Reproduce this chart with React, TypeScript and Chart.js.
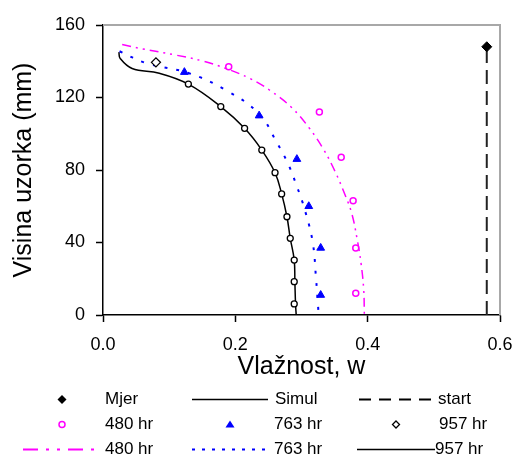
import React, { useEffect, useRef } from "react";
import { Chart, registerables } from "chart.js";

Chart.register(...registerables);

// ---- tick values ----
const xTickValues = [0, 0.2, 0.4, 0.6];
const yTickValues = [0, 40, 80, 120, 160];

// ---- measured / start ----
const mjerX = [0.58];
const mjerY = [148];
const startX = [0.58, 0.58];
const startY = [0, 148];

// ---- measured points ----
const p480X = [0.19, 0.327, 0.36, 0.378, 0.382, 0.382];
const p480Y = [137, 112, 87, 63, 37, 12];

const p763X = [0.123, 0.236, 0.293, 0.311, 0.329, 0.329];
const p763Y = [134, 110, 86, 60, 37, 11];

const p957X = [0.08, 0.129, 0.178, 0.214, 0.24, 0.26, 0.27, 0.278, 0.283, 0.289, 0.289, 0.289];
const p957Y = [139.4, 127.4, 115, 103, 91, 78.5, 66.8, 54.2, 42.3, 30.3, 18.4, 6.1];
const p957Style = ["rectRot", "circle", "circle", "circle", "circle", "circle", "circle", "circle", "circle", "circle", "circle", "circle"];

// ---- simulated curves ----
const s480X = [0.029, 0.06, 0.11, 0.15, 0.186, 0.222, 0.252, 0.285, 0.312, 0.334, 0.351, 0.365, 0.376, 0.384, 0.39, 0.394, 0.395];
const s480Y = [149.3, 146.8, 143.4, 140.2, 136, 130.5, 124, 114.5, 103, 91, 79, 67, 56, 42, 28.5, 14, 0];

const s763X = [0.025, 0.065, 0.13, 0.186, 0.236, 0.262, 0.279, 0.292, 0.305, 0.317, 0.322, 0.325, 0.326];
const s763Y = [145.5, 139, 133.4, 124, 111, 95.6, 84, 72, 58, 40, 20, 5, 0];

const s957X = [0.024, 0.026, 0.044, 0.085, 0.129, 0.178, 0.214, 0.24, 0.26, 0.27, 0.278, 0.283, 0.289, 0.29, 0.291, 0.292];
const s957Y = [145, 141.5, 136, 133.4, 127.4, 115, 103, 91, 78.5, 66.8, 54.2, 42.3, 30.3, 18, 6, 0];

// ---- legend labels ----
const legendRow1 = ["Mjer", "Simul", "start"];
const legendRow2 = ["480 hr", "763 hr", "957 hr"];
const legendRow3 = ["480 hr", "763 hr", "957 hr"];

const MAGENTA = "#ff00ff";
const BLUE = "#0000ff";
const FONT = '"Liberation Sans", Arial, sans-serif';

const zip = (xs: number[], ys: number[]) => xs.map((x, i) => ({ x, y: ys[i] }));

function drawMarker(ctx: CanvasRenderingContext2D, kind: string, x: number, y: number) {
  ctx.save();
  ctx.setLineDash([]);
  if (kind === "mjer") {
    ctx.fillStyle = "#000";
    ctx.beginPath();
    ctx.moveTo(x, y - 4.5);
    ctx.lineTo(x + 4.5, y);
    ctx.lineTo(x, y + 4.5);
    ctx.lineTo(x - 4.5, y);
    ctx.closePath();
    ctx.fill();
  } else if (kind === "circle") {
    ctx.strokeStyle = MAGENTA;
    ctx.lineWidth = 1.5;
    ctx.beginPath();
    ctx.arc(x, y, 3, 0, Math.PI * 2);
    ctx.stroke();
  } else if (kind === "triangle") {
    ctx.fillStyle = BLUE;
    ctx.beginPath();
    ctx.moveTo(x, y - 4);
    ctx.lineTo(x + 4.5, y + 3);
    ctx.lineTo(x - 4.5, y + 3);
    ctx.closePath();
    ctx.fill();
  } else if (kind === "diamond") {
    ctx.strokeStyle = "#000";
    ctx.lineWidth = 1.3;
    ctx.beginPath();
    ctx.moveTo(x, y - 3.5);
    ctx.lineTo(x + 3.5, y);
    ctx.lineTo(x, y + 3.5);
    ctx.lineTo(x - 3.5, y);
    ctx.closePath();
    ctx.stroke();
  }
  ctx.restore();
}

function drawLineSample(ctx: CanvasRenderingContext2D, color: string, dash: number[], width: number, x1: number, x2: number, y: number) {
  ctx.save();
  ctx.strokeStyle = color;
  ctx.lineWidth = width;
  ctx.setLineDash(dash);
  ctx.beginPath();
  ctx.moveTo(x1, y);
  ctx.lineTo(x2, y);
  ctx.stroke();
  ctx.restore();
}

const framePlugin = {
  id: "frame",
  beforeDatasetsDraw(chart: any) {
    const { ctx, chartArea } = chart;
    ctx.save();
    ctx.strokeStyle = "#a8a8a8";
    ctx.lineWidth = 2;
    ctx.beginPath();
    ctx.moveTo(chartArea.left, chartArea.top);
    ctx.lineTo(chartArea.right, chartArea.top);
    ctx.lineTo(chartArea.right, chartArea.bottom);
    ctx.stroke();
    ctx.restore();
  },
};

const legendPlugin = {
  id: "gridLegend",
  afterDraw(chart: any) {
    const ctx: CanvasRenderingContext2D = chart.ctx;
    const rows = [399.5, 424.5, 449.5];
    ctx.save();
    ctx.font = "17px " + FONT;
    ctx.textBaseline = "middle";
    ctx.textAlign = "left";
    ctx.fillStyle = "#000";

    // row 1
    drawMarker(ctx, "mjer", 62, rows[0]);
    ctx.fillText(legendRow1[0], 105, rows[0]);
    drawLineSample(ctx, "#000", [], 1.5, 192, 268, rows[0]);
    ctx.fillText(legendRow1[1], 275, rows[0]);
    drawLineSample(ctx, "#000", [12, 8], 2, 359, 438, rows[0]);
    ctx.fillText(legendRow1[2], 438, rows[0]);

    // row 2
    drawMarker(ctx, "circle", 62, rows[1]);
    ctx.fillText(legendRow2[0], 105, rows[1]);
    drawMarker(ctx, "triangle", 230, rows[1]);
    ctx.fillText(legendRow2[1], 274, rows[1]);
    drawMarker(ctx, "diamond", 396, rows[1]);
    ctx.fillText(legendRow2[2], 439, rows[1]);

    // row 3
    drawLineSample(ctx, MAGENTA, [15, 8, 3, 8, 3, 8], 2, 23, 96, rows[2]);
    ctx.fillText(legendRow3[0], 105, rows[2]);
    drawLineSample(ctx, BLUE, [3, 7], 2, 192, 268, rows[2]);
    ctx.fillText(legendRow3[1], 274, rows[2]);
    drawLineSample(ctx, "#000", [], 1.5, 357, 435, rows[2]);
    ctx.fillText(legendRow3[2], 435, rows[2]);
    ctx.restore();
  },
};

export default function App() {
  const canvasRef = useRef<HTMLCanvasElement | null>(null);

  useEffect(() => {
    if (!canvasRef.current) return;
    const chart = new Chart(canvasRef.current, {
      type: "scatter",
      data: {
        datasets: [
          {
            label: "Mjer",
            data: zip(mjerX, mjerY),
            pointStyle: "rectRot",
            pointRadius: 5,
            backgroundColor: "#000",
            borderColor: "#000",
            borderWidth: 1,
            showLine: false,
          },
          {
            label: "480 hr",
            data: zip(p480X, p480Y),
            pointStyle: "circle",
            pointRadius: 3,
            backgroundColor: "#fff",
            borderColor: MAGENTA,
            borderWidth: 1.5,
            showLine: false,
          },
          {
            label: "763 hr",
            data: zip(p763X, p763Y),
            pointStyle: "triangle",
            pointRadius: 4.5,
            backgroundColor: BLUE,
            borderColor: BLUE,
            borderWidth: 1,
            showLine: false,
          },
          {
            label: "957 hr",
            data: zip(p957X, p957Y),
            pointStyle: p957Style as any,
            pointRadius: p957Style.map((s) => (s === "rectRot" ? 4.5 : 3)),
            backgroundColor: "#fff",
            borderColor: "#000",
            borderWidth: 1.3,
            showLine: false,
          },
          {
            label: "start",
            data: zip(startX, startY),
            showLine: true,
            borderColor: "#222",
            borderWidth: 2,
            borderDash: [14, 7],
            pointRadius: 0,
          },
          {
            label: "480 hr sim",
            data: zip(s480X, s480Y),
            showLine: true,
            borderColor: MAGENTA,
            borderWidth: 1.5,
            borderDash: [9, 5, 2, 5, 2, 5],
            pointRadius: 0,
            tension: 0.4,
          },
          {
            label: "763 hr sim",
            data: zip(s763X, s763Y),
            showLine: true,
            borderColor: BLUE,
            borderWidth: 2,
            borderDash: [3, 9],
            pointRadius: 0,
            tension: 0.4,
          },
          {
            label: "957 hr sim",
            data: zip(s957X, s957Y),
            showLine: true,
            borderColor: "#000",
            borderWidth: 1.5,
            pointRadius: 0,
            tension: 0.4,
          },
        ],
      },
      options: {
        animation: false,
        responsive: false,
        maintainAspectRatio: false,
        layout: { padding: { left: 0, top: 25, right: 15, bottom: 72 } },
        plugins: {
          legend: { display: false },
          tooltip: { enabled: false },
        },
        scales: {
          x: {
            type: "linear",
            min: 0,
            max: 0.6,
            afterBuildTicks: (scale: any) => {
              scale.ticks = xTickValues.map((v) => ({ value: v }));
            },
            afterFit: (scale: any) => {
              scale.height = 67;
              scale.paddingRight = 0;
              scale.paddingLeft = 0;
            },
            ticks: {
              callback: (v: any) => Number(v).toFixed(1),
              color: "#000",
              font: { family: FONT, size: 18 },
              padding: 12,
              maxRotation: 0,
            },
            grid: {
              drawOnChartArea: false,
              drawTicks: true,
              tickLength: 7,
              tickColor: "#000",
              tickWidth: 1.5,
            },
            border: { color: "#000", width: 1.5 },
            title: {
              display: true,
              text: "Vlažnost, w",
              color: "#000",
              font: { family: FONT, size: 25 },
              padding: { top: 0, bottom: 0 },
            },
          },
          y: {
            type: "linear",
            min: 0,
            max: 160,
            afterBuildTicks: (scale: any) => {
              scale.ticks = yTickValues.map((v) => ({ value: v }));
            },
            afterFit: (scale: any) => {
              scale.width = 103;
            },
            ticks: {
              color: "#000",
              font: { family: FONT, size: 18 },
              padding: 11,
            },
            grid: {
              drawOnChartArea: false,
              drawTicks: true,
              tickLength: 7,
              tickColor: "#000",
              tickWidth: 1.5,
            },
            border: { color: "#000", width: 1.5 },
            title: {
              display: true,
              text: "Visina uzorka (mm)",
              color: "#000",
              font: { family: FONT, size: 25 },
              padding: { top: 9, bottom: 0 },
            },
          },
        },
      },
      plugins: [framePlugin, legendPlugin],
    });
    return () => chart.destroy();
  }, []);

  return (
    <div style={{ position: "absolute", left: 0, top: 0, width: 515, height: 454, background: "#fff" }}>
      <canvas ref={canvasRef} width={515} height={454} style={{ width: 515, height: 454, display: "block" }} />
    </div>
  );
}
